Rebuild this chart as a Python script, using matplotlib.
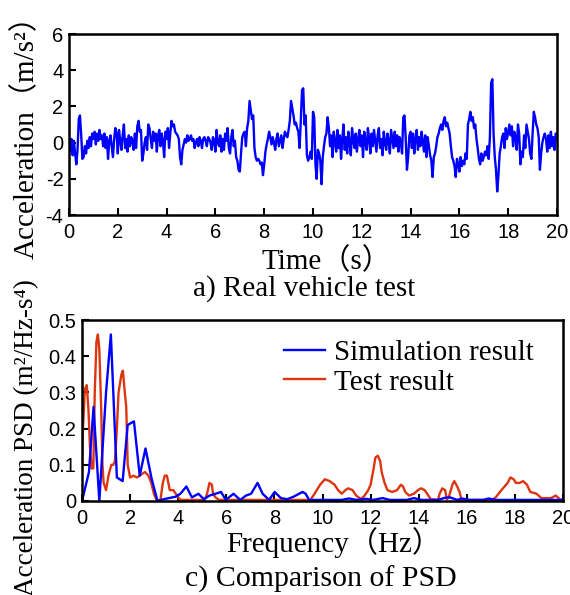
import matplotlib
matplotlib.use("Agg")
import matplotlib.pyplot as plt
import numpy as np
from matplotlib.ticker import FixedLocator, FuncFormatter

# ---------------- data ----------------
# acceleration signal, 0.05 s step, one row per second
accel_rows = [
    [0.3, -0.5, 0.2, -0.7, 0.1, -0.6, -1.2, -0.4, 1.3, 1.5, 0.4, -0.9, -0.8, -0.2, -0.6, 0.1, -0.3, 0.3, -0.2, 0.5],
    [0.2, 0.6, -0.1, 0.5, 0.1, 0.7, 0.2, 0.4, -0.2, 0.5, -0.3, 0.3, -0.9, 0.1, 0.4, -0.2, -0.8, 0.2, 0.8, 0.5],
    [-0.6, 0.7, 0.1, -0.4, 0.4, 1.0, -0.3, 0.2, -0.5, 0.4, -0.2, 0.3, 0.1, -0.4, 0.5, -0.3, 0.9, 1.2, 0.6, 0.7],
    [-1.0, -0.6, 0.0, 0.3, -0.4, 1.0, 0.8, 0.2, -0.3, 0.6, 0.1, 0.5, -0.5, 0.4, 0.7, -0.2, 0.5, 0.1, -0.8, 0.6],
    [0.2, 0.8, -0.3, 0.5, 1.2, 0.9, 1.0, 0.6, 0.5, 0.4, 0.2, -0.8, -1.2, -0.4, -0.1, 0.2, 0.0, 0.4, 0.1, 0.2],
    [0.4, 0.1, 0.2, -0.3, 0.0, 0.2, -0.2, 0.3, 0.1, -0.3, 0.2, 0.3, 0.1, -0.2, 0.3, 0.2, 0.0, -0.4, 0.3, 0.1],
    [-0.5, 0.7, 0.0, -0.2, 0.4, -0.5, 0.2, -0.4, 0.5, 0.1, 0.8, -0.3, -0.6, 0.3, 0.7, -0.2, 0.1, -0.8, -1.0, -1.5],
    [-1.6, -0.6, 0.3, 0.5, 0.6, -0.2, 0.8, 1.2, 2.3, 1.8, 1.3, 1.5, -0.3, -0.8, -1.0, -0.9, -1.0, -1.2, -1.1, -1.8],
    [-1.2, -0.5, -0.1, 0.2, 0.6, 0.3, -0.1, 0.3, 0.0, -0.4, 0.2, 0.5, -0.2, 0.1, 0.4, -0.3, 0.2, 0.6, 0.4, 0.3],
    [0.7, 1.2, 2.3, 1.9, 1.5, 1.0, 1.1, 0.8, 0.6, -0.3, 1.2, 2.9, 3.0, 1.0, 1.5, -0.7, -1.0, -0.8, -0.5, -0.9],
    [1.7, 1.4, -1.2, -2.0, -0.4, -0.6, -1.0, -2.3, -0.8, -0.2, 0.3, 0.5, 1.4, 0.8, -0.2, 0.4, -0.8, 0.6, 0.1, -0.5],
    [0.7, -0.3, 0.4, -0.9, 0.2, 1.0, -0.4, 0.3, -0.6, 0.6, 0.0, -0.7, 0.8, 0.1, -0.3, 0.5, -0.5, 0.2, 0.7, -0.2],
    [0.4, -0.8, 0.6, 0.0, -0.4, 0.8, 0.2, -0.6, 0.5, -0.2, 0.7, 0.1, -0.5, 0.4, 0.8, -0.3, 0.2, -0.7, 0.6, 0.0],
    [-0.4, 0.5, 0.1, -0.6, 0.7, 0.2, -0.3, 0.6, -0.2, 0.4, -0.5, 0.3, 0.0, -0.6, 1.4, 1.5, 0.2, -1.5, -0.8, 0.4],
    [0.6, -0.3, 0.5, -0.6, 0.2, 0.7, -0.4, 0.3, -0.2, 0.6, 0.1, -0.5, 0.4, -0.8, 0.3, -0.2, -0.7, -1.0, -1.9, -0.8],
    [-0.6, -0.2, 0.3, 0.5, 0.8, 1.0, 0.7, 1.2, 1.4, 0.9, 1.1, 0.8, 0.5, -0.2, -0.8, -1.0, -1.3, -1.9, -0.9, -1.2],
    [-1.6, -0.8, -1.3, -1.0, -1.2, -0.6, -0.9, 1.0, 1.3, 1.7, 1.2, 1.4, 0.8, 1.0, 0.2, -0.3, -0.9, -1.2, -0.6, -1.0],
    [-0.8, -0.5, -0.7, -0.2, -0.9, 0.3, 3.3, 3.5, 0.5, -0.8, -1.5, -2.7, -1.8, -0.6, -0.2, 0.3, 0.5, -0.3, 0.8, 0.2],
    [0.6, 1.0, 0.4, 0.9, -0.2, 0.6, 0.3, -0.4, 1.0, 0.5, -1.2, -0.5, -0.8, 0.4, -0.3, 1.0, 0.6, 0.2, -0.6, -0.9],
    [0.5, 1.7, 1.4, 1.0, 0.8, 0.3, -1.5, -0.6, 0.0, 0.3, 0.5, 0.2, -0.5, 0.4, -0.3, 0.6, -0.2, 0.3, -0.4, 0.5],
]
accel_last = 0.2
time_step = 0.05

sim_freq = [0, 0.29, 0.48, 0.72, 1.0, 1.2, 1.45, 1.69, 1.9, 2.16,
            2.4, 2.64, 2.9, 3.14, 3.4, 3.9, 4.09, 4.34, 4.57, 4.84,
            5.07, 5.3, 5.55, 5.78, 5.98, 6.3, 6.58, 6.82, 7.03, 7.3,
            7.51, 7.78, 8.01, 8.27, 8.54, 8.8, 9.17, 9.3, 9.44, 10.0,
            10.8, 11.1, 11.4, 11.8, 12.1, 12.5, 12.8, 13.5, 13.8, 14.1,
            14.8, 15.1, 15.3, 15.6, 15.8, 16.1, 16.7, 16.9, 17.2, 18.0,
            19.0, 20.0]
sim_psd = [0.0, 0.08, 0.26, 0.0, 0.30, 0.46, 0.065, 0.055, 0.21, 0.22,
           0.07, 0.145, 0.06, 0.0, 0.005, 0.012, 0.02, 0.04, 0.01, 0.02,
           0.005, 0.015, 0.02, 0.025, 0.003, 0.02, 0.003, 0.015, 0.02, 0.05,
           0.02, 0.003, 0.025, 0.008, 0.005, 0.012, 0.025, 0.02, 0.003, 0.003,
           0.003, 0.007, 0.003, 0.006, 0.003, 0.008, 0.003, 0.003, 0.008, 0.003,
           0.003, 0.009, 0.01, 0.003, 0.007, 0.003, 0.003, 0.007, 0.003, 0.003,
           0.003, 0.003]

test_freq = [0.0, 0.04, 0.12, 0.2, 0.27, 0.33, 0.4, 0.47, 0.53, 0.6,
             0.66, 0.72, 0.8, 0.85, 0.9, 1.0, 1.1, 1.22, 1.3, 1.37,
             1.45, 1.52, 1.64, 1.7, 1.78, 1.84, 1.9, 2.0, 2.14, 2.28,
             2.4, 2.5, 2.62, 2.76, 2.88, 2.99, 3.1, 3.26, 3.36, 3.44,
             3.53, 3.59, 3.65, 3.8, 3.9, 4.0, 4.1, 5.1, 5.2, 5.3,
             5.4, 5.45, 5.55, 5.7, 9.5, 9.67, 9.9, 10.1, 10.3, 10.5,
             10.65, 10.8, 10.95, 11.07, 11.25, 11.4, 11.6, 11.75, 11.9, 12.0,
             12.1, 12.2, 12.3, 12.4, 12.46, 12.58, 12.7, 12.9, 13.1, 13.26,
             13.35, 13.44, 13.6, 13.8, 13.97, 14.1, 14.25, 14.4, 14.5, 14.8,
             14.87, 14.98, 15.1, 15.17, 15.25, 15.4, 15.48, 15.6, 15.7, 15.78,
             17.06, 17.2, 17.44, 17.7, 17.81, 17.95, 18.04, 18.2, 18.34, 18.5,
             18.64, 18.9, 19.1, 19.5, 19.7, 19.9, 20.0]
test_psd = [0.1, 0.2, 0.31, 0.32, 0.25, 0.15, 0.09, 0.09, 0.3, 0.44,
            0.46, 0.42, 0.25, 0.1, 0.05, 0.03, 0.07, 0.1, 0.1, 0.11,
            0.2, 0.3, 0.35, 0.36, 0.3, 0.26, 0.1, 0.065, 0.07, 0.065,
            0.07, 0.075, 0.08, 0.07, 0.05, 0.02, 0.002, 0.002, 0.05, 0.07,
            0.07, 0.05, 0.03, 0.03, 0.02, 0.01, 0.003, 0.003, 0.02, 0.05,
            0.045, 0.02, 0.01, 0.003, 0.003, 0.02, 0.045, 0.06, 0.055, 0.045,
            0.03, 0.02, 0.03, 0.035, 0.03, 0.015, 0.005, 0.015, 0.03, 0.045,
            0.08, 0.12, 0.125, 0.11, 0.08, 0.05, 0.03, 0.025, 0.03, 0.045,
            0.04, 0.025, 0.015, 0.02, 0.03, 0.035, 0.03, 0.015, 0.005, 0.003,
            0.02, 0.035, 0.03, 0.005, 0.01, 0.045, 0.055, 0.04, 0.025, 0.003,
            0.003, 0.01, 0.03, 0.05, 0.065, 0.06, 0.05, 0.05, 0.055, 0.045,
            0.025, 0.02, 0.008, 0.008, 0.015, 0.003, 0.003]

top_xticks = [0, 2, 4, 6, 8, 10, 12, 14, 16, 18, 20]
top_yticks = [-4, -2, 0, 2, 4, 6]
bot_xticks = [0, 2, 4, 6, 8, 10, 12, 14, 16, 18, 20]
bot_yticks = [0, 0.1, 0.2, 0.3, 0.4, 0.5]

assert len(sim_freq) == len(sim_psd)
assert len(test_freq) == len(test_psd)

accel = [v for row in accel_rows for v in row] + [accel_last]
time = np.arange(len(accel)) * time_step

# ---------------- style ----------------
SERIF = ['Liberation Serif', 'DejaVu Serif', 'Noto Sans CJK SC']
SANS = ['Liberation Sans', 'DejaVu Sans']
plt.rcParams['font.family'] = SANS
plt.rcParams['axes.unicode_minus'] = False

W, H = 570, 595
fig = plt.figure(figsize=(W / 100, H / 100), dpi=100)

def px_axes(l, t, r, b):
    return fig.add_axes([l / W, 1 - b / H, (r - l) / W, (b - t) / H])

TICK_FS = 14.5
LAB_FS = 21
BLUE = '#0000FF'
RED = '#DD3510'

def style(ax):
    for s in ax.spines.values():
        s.set_linewidth(1.8)
    ax.tick_params(direction='in', length=5, width=1.5, labelsize=TICK_FS,
                   top=False, right=False)
    ax.tick_params(axis='x', pad=6)
    ax.tick_params(axis='y', pad=4)

def fmt(v, pos):
    if abs(v) < 1e-12:
        return '0'
    return '%g' % v

# ---------------- top chart ----------------
ax1 = px_axes(69, 34, 557, 215)
ax1.plot(time, accel, color=BLUE, lw=1.7)
ax1.set_xlim(0, 20)
ax1.set_ylim(-4, 6)
ax1.xaxis.set_major_locator(FixedLocator(top_xticks))
ax1.yaxis.set_major_locator(FixedLocator(top_yticks))
ax1.yaxis.set_major_formatter(FuncFormatter(fmt))
style(ax1)

fig.text(326 / W, 1 - 269 / H, 'Time（s）', family=SERIF, fontsize=LAB_FS,
         ha='center', va='baseline')
fig.text(304 / W, 1 - 296 / H, 'a) Real vehicle test', family=SERIF,
         fontsize=LAB_FS, ha='center', va='baseline')
fig.text(26 / W, 1 - 130 / H, 'Acceleration（m/s²）', family=SERIF,
         fontsize=LAB_FS, rotation=90, ha='center', va='center')

# ---------------- bottom chart ----------------
ax2 = px_axes(82, 320, 563, 501)
l_test, = ax2.plot(test_freq, test_psd, color=RED, lw=1.7)
l_sim, = ax2.plot(sim_freq, sim_psd, color=BLUE, lw=1.7)
ax2.set_xlim(0, 20)
ax2.set_ylim(0, 0.5)
ax2.xaxis.set_major_locator(FixedLocator(bot_xticks))
ax2.yaxis.set_major_locator(FixedLocator(bot_yticks))
ax2.yaxis.set_major_formatter(FuncFormatter(fmt))
style(ax2)
ax2.legend([l_sim, l_test], ['Simulation result', 'Test result'],
           loc='upper left', bbox_to_anchor=(0.42, 0.89), frameon=False,
           prop={'family': SERIF, 'size': LAB_FS}, handlelength=1.4,
           handletextpad=0.3, labelspacing=0.1, borderpad=0,
           borderaxespad=0)

fig.text(334 / W, 1 - 552 / H, 'Frequency（Hz）', family=SERIF, fontsize=LAB_FS,
         ha='center', va='baseline')
fig.text(321 / W, 1 - 587 / H, 'c) Comparison of PSD', family=SERIF,
         fontsize=21.5, ha='center', va='baseline')
fig.text(27 / W, 1 - 438 / H, 'Acceleration PSD (m²/Hz-s⁴)', family=SERIF,
         fontsize=19.5, rotation=90, ha='center', va='center')

fig.savefig('out.png', dpi=100)
